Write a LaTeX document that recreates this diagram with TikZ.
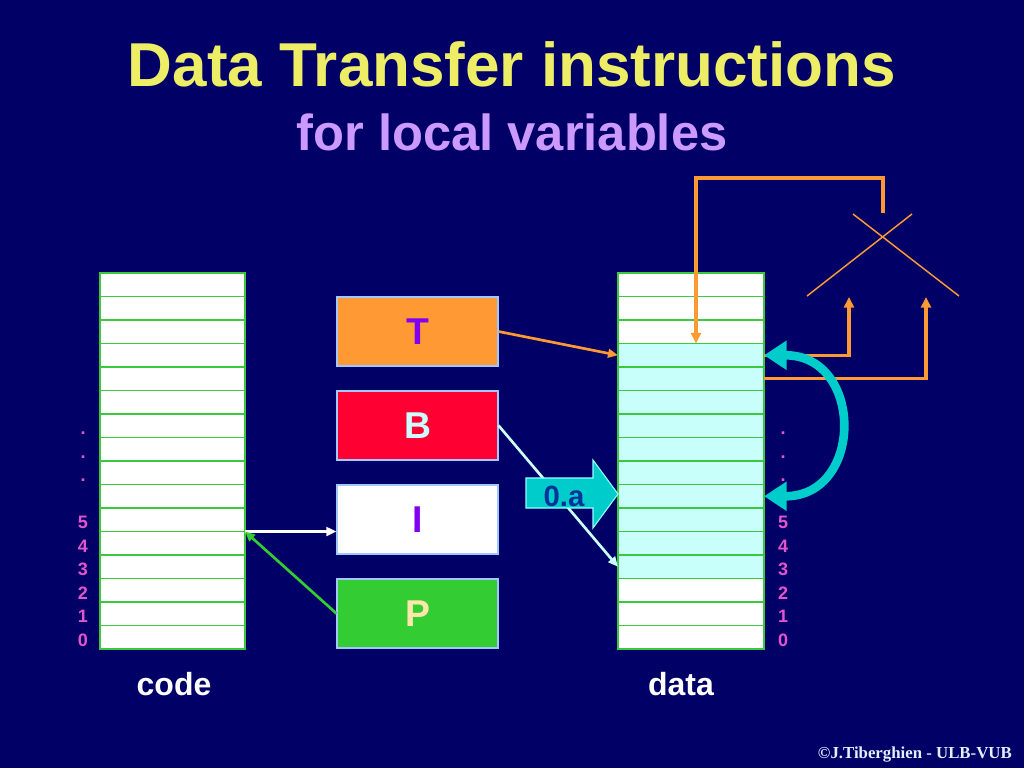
\documentclass[tikz,border=0pt]{standalone}
\usepackage{fontspec}
\setmainfont{Liberation Sans}
\newfontfamily\crserif{Liberation Serif}
\usetikzlibrary{arrows.meta}
\definecolor{bg}{RGB}{0,0,102}
\definecolor{titleyellow}{RGB}{238,238,102}
\definecolor{sublilac}{RGB}{204,153,255}
\definecolor{gridgreen}{RGB}{60,200,60}
\definecolor{cellcyan}{RGB}{200,255,250}
\definecolor{numpink}{RGB}{225,85,205}
\definecolor{regorange}{RGB}{255,153,51}
\definecolor{regred}{RGB}{255,0,51}
\definecolor{reggreen}{RGB}{51,204,51}
\definecolor{regborder}{RGB}{160,200,255}
\definecolor{regpurple}{RGB}{130,0,240}
\definecolor{bletter}{RGB}{204,255,255}
\definecolor{pletter}{RGB}{255,230,170}
\definecolor{wireorange}{RGB}{255,153,51}
\definecolor{turq}{RGB}{0,204,204}
\definecolor{turqborder}{RGB}{150,255,255}
\definecolor{oablue}{RGB}{0,51,153}
\definecolor{crcolor}{RGB}{225,240,255}
\begin{document}
\begin{tikzpicture}[x=0.75pt,y=-0.75pt,
  cell/.style={draw=gridgreen,line width=1.4pt,fill=white,inner sep=0pt,outer sep=0pt,minimum height=17.625pt},
  codecell/.style={cell,minimum width=108.75pt},
  datacell/.style={cell,minimum width=109.5pt},
  cyancell/.style={datacell,fill=cellcyan},
  reg/.style={draw=regborder,line width=0.8pt,minimum width=120.75pt,minimum height=51.75pt,inner sep=0pt,font=\fontsize{28}{30}\selectfont\bfseries},
  numlabel/.style={anchor=base,text=numpink,font=\fontsize{13.5}{14}\selectfont\bfseries,inner sep=0pt},
  wire/.style={draw=wireorange,line width=2.6pt},
  thinwire/.style={draw=wireorange,line width=1.1pt},
  wtip/.style={-{Triangle[length=8pt,width=7.5pt]}},
  thinarrow/.style={line width=2pt,-{Triangle[length=7.5pt,width=6.5pt]}},
  caption/.style={text=white,font=\fontsize{24}{26}\selectfont\bfseries,anchor=base,inner sep=0pt}
]
\fill[bg] (0,0) rectangle (1024,768);
\useasboundingbox (0,0) rectangle (1024,768);

% titles
\node[anchor=base,text=titleyellow,font=\fontsize{46.5}{50}\selectfont\bfseries,inner sep=0pt] (title) at (512,86) {Data Transfer instructions};
\node[anchor=base,text=sublilac,font=\fontsize{38}{42}\selectfont\bfseries,inner sep=0pt] (subtitle) at (512,150) {for local variables};

% code column
\foreach \i in {0,...,15}
  \node[codecell] (c\i) at (172.5,{649-23.5*(\i+0.5)}) {};
% data column
\foreach \i in {0,1,2,13,14,15}
  \node[datacell] (d\i) at (691,{649-23.5*(\i+0.5)}) {};
\foreach \i in {3,...,12}
  \node[cyancell] (d\i) at (691,{649-23.5*(\i+0.5)}) {};

% row labels
\foreach \i in {0,...,5} {
  \node[numlabel] (ln\i) at (83,{658-23.5*(\i+0.5)}) {\i};
  \node[numlabel] (rn\i) at (783,{658-23.5*(\i+0.5)}) {\i};
}
\foreach \i in {7,8,9} {
  \node[numlabel] (ld\i) at (83,{658-23.5*(\i+0.5)}) {.};
  \node[numlabel] (rd\i) at (783,{658-23.5*(\i+0.5)}) {.};
}

\node[caption] (codelbl) at (174,695) {code};
\node[caption] (datalbl) at (681,695) {data};

% registers
\node[reg,fill=regorange,text=regpurple] (T) at (417.5,331.5) {T};
\node[reg,fill=regred,text=bletter] (B) at (417.5,425.5) {B};
\node[reg,fill=white,text=regpurple] (I) at (417.5,519.5) {I};
\node[reg,fill=reggreen,text=pletter] (P) at (417.5,613.5) {P};

% register arrows
\draw[thinarrow,draw=white] (c5.south east) -- (c5.south east -| I.west);
\draw[thinarrow,draw=reggreen] (P.west) -- (c5.south east);
\draw[thinarrow,draw=wireorange] (T.east) -- (d12.west);
\draw[thinarrow,draw=bletter] (B.east) -- (d3.west);

% 0.a offset arrow
\filldraw[fill=turq,draw=turqborder,line width=0.8pt]
  (526,478) -- (593,478) -- (593,460) -- (618,494) -- (593,528) -- (593,508) -- (526,508) -- cycle;
\node[text=oablue,font=\fontsize{22}{24}\selectfont\bfseries,inner sep=0pt] (oa) at (564,496) {0.a};

% tree symbol
\coordinate (xa1) at (853,214);
\coordinate (xa2) at (959,296);
\coordinate (xb1) at (912,214);
\coordinate (xb2) at (807,296);
\draw[thinwire] (xa1) -- (xa2);
\draw[thinwire] (xb1) -- (xb2);
\coordinate (wtop) at (883,213);
\coordinate (wend) at ([xshift=3.75pt]d12.north);
\coordinate (ta) at (849,297);
\coordinate (tb) at (926,297);
\draw[wire,wtip] (wtop) -- ++(0,-35) -| (wend);
\draw[wire,wtip] (d12.east) -| (ta);
\draw[wire,wtip] (d11.east) -| (tb);

% curved double arrow
\draw[draw=turq,line width=6.5pt,{Triangle[length=17pt,width=21pt]}-{Triangle[length=17pt,width=21pt]}]
  (d12.east) .. controls +(100,0) and +(100,0) .. (d6.east);

% copyright
\node[anchor=base east,text=crcolor,font=\crserif\fontsize{12.6}{14}\selectfont\bfseries,inner sep=0pt] (copy) at (1012,758) {©J.Tiberghien - ULB-VUB};
\end{tikzpicture}
\end{document}
